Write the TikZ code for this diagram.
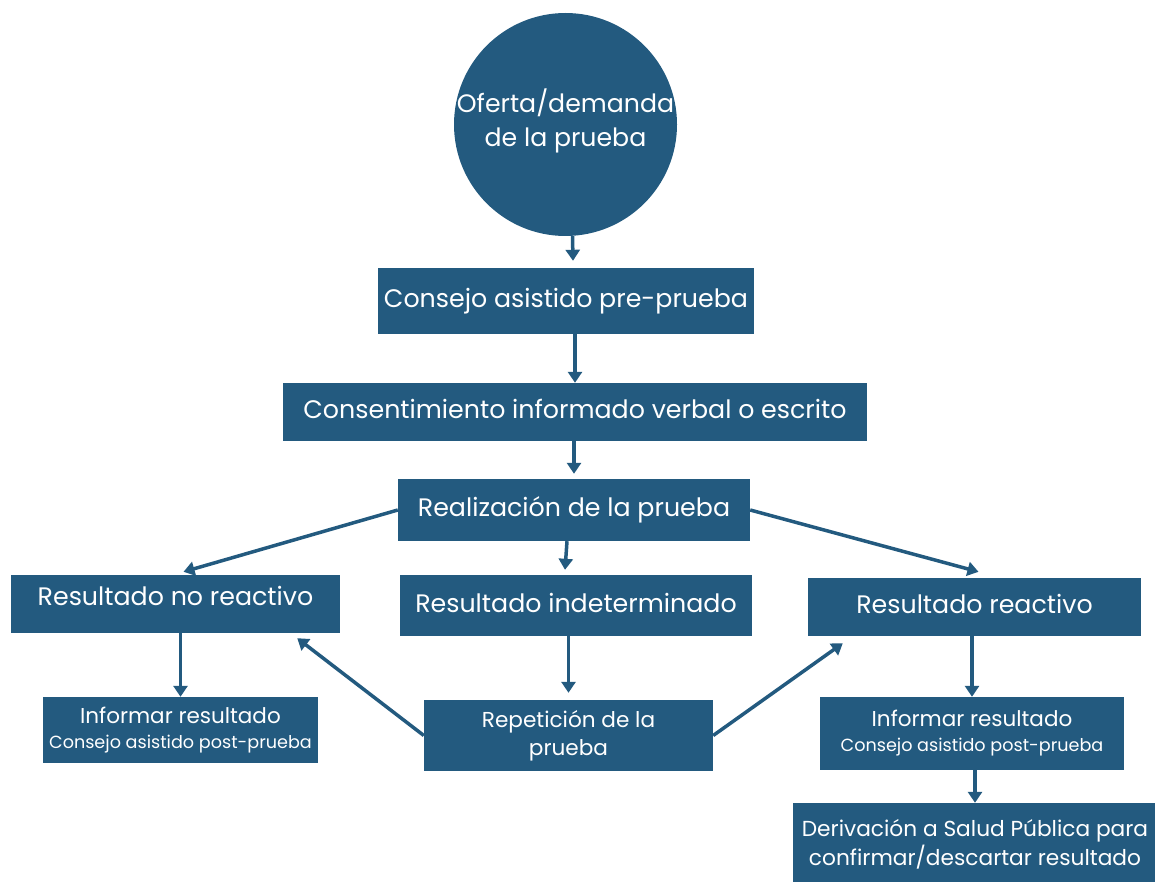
\documentclass[tikz,border=0pt]{standalone}
\usepackage{fontspec}
\setmainfont{Poppins}
\usetikzlibrary{arrows.meta, positioning, calc}
\definecolor{navy}{HTML}{235A7F}
\newcommand{\fsize}[2]{\fontsize{#1}{#2}\selectfont}
\tikzset{
    box/.style={fill=navy, text=white, inner sep=0pt, align=center},
    flow/.style={-{Triangle[length=11pt, width=14pt]}, line width=3.5pt, draw=navy},
    big/.style={font=\fsize{25.3}{30}, text height=19pt, text depth=6pt},
    small/.style={font=\fsize{21.5}{25}}
}

\begin{document}
\begin{tikzpicture}[x=1pt, y=-1pt]
    \useasboundingbox (0,0) rectangle (1155,882);
    \clip (0,0) rectangle (1155,882);

    \node[box, circle, minimum size=223pt,
        label={[text=white, align=center, font=\fsize{25.2}{34}, yshift=4pt]center:{Oferta/demanda\\de la prueba}}]
        (oferta) at (565.5,124.5) {};
    \node[box, big, minimum width=376pt, minimum height=66pt] (consejo) at (566,301) {Consejo asistido pre-prueba};
    \node[box, big, minimum width=584pt, minimum height=58pt] (consent) at (575,412) {Consentimiento informado verbal o escrito};
    \node[box, big, minimum width=352pt, minimum height=62pt] (realiz) at (574,510) {Realización de la prueba};

    \node[box, big, text depth=17pt, minimum width=329pt, minimum height=58pt] (noreact) at (175.5,604) {Resultado no reactivo};
    \node[box, big, minimum width=352pt, minimum height=61pt] (indet) at (576,605.5) {Resultado indeterminado};
    \node[box, big, minimum width=333pt, minimum height=58pt] (react) at (974.5,607) {Resultado reactivo};

    \node[box, small, minimum width=275pt, minimum height=66pt] (informA) at (180.5,730)
        {Informar resultado\\\fsize{17.6}{25}Consejo asistido post-prueba};
    \node[box, small, minimum width=289pt, minimum height=71pt, font=\fsize{21.6}{28}] (repet) at (568.5,735.5)
        {Repetición de la\\prueba};
    \node[box, small, minimum width=304pt, minimum height=73pt] (informB) at (972,733.5)
        {Informar resultado\\\fsize{17.6}{25}Consejo asistido post-prueba};
    \node[box, minimum width=364pt, minimum height=82pt, font=\fsize{21.7}{29}] (deriv) at (975,844)
        {Derivación a Salud Pública para\\confirmar/descartar resultado};

    \draw[flow] ([xshift=7pt]oferta.south) -- ([xshift=7pt, yshift=7pt]consejo.north);
    \draw[flow] (consejo.south -| consent.north) -- (consent.north);
    \draw[flow] (consent.south -| realiz.north) -- ([yshift=5pt]realiz.north);
    \draw[flow] (realiz.west) -- ([xshift=8pt, yshift=3pt]noreact.north);
    \draw[flow] ([xshift=-7pt]realiz.south) -- ([xshift=-11pt, yshift=5pt]indet.north);
    \draw[flow] (realiz.east) -- ([xshift=4pt, yshift=6pt]react.north);
    \draw[flow] (noreact.south -| informA.north) -- (informA.north);
    \draw[flow] (indet.south -| repet.north) -- ([yshift=7pt]repet.north);
    \draw[flow] (repet.west) -- ([xshift=-43pt, yshift=-5pt]noreact.south east);
    \draw[flow] (repet.east) -- ([xshift=35pt, yshift=-7pt]react.south west);
    \draw[flow] (react.south -| informB.north) -- (informB.north);
    \draw[flow] (informB.south -| deriv.north) -- (deriv.north);
\end{tikzpicture}
\end{document}
